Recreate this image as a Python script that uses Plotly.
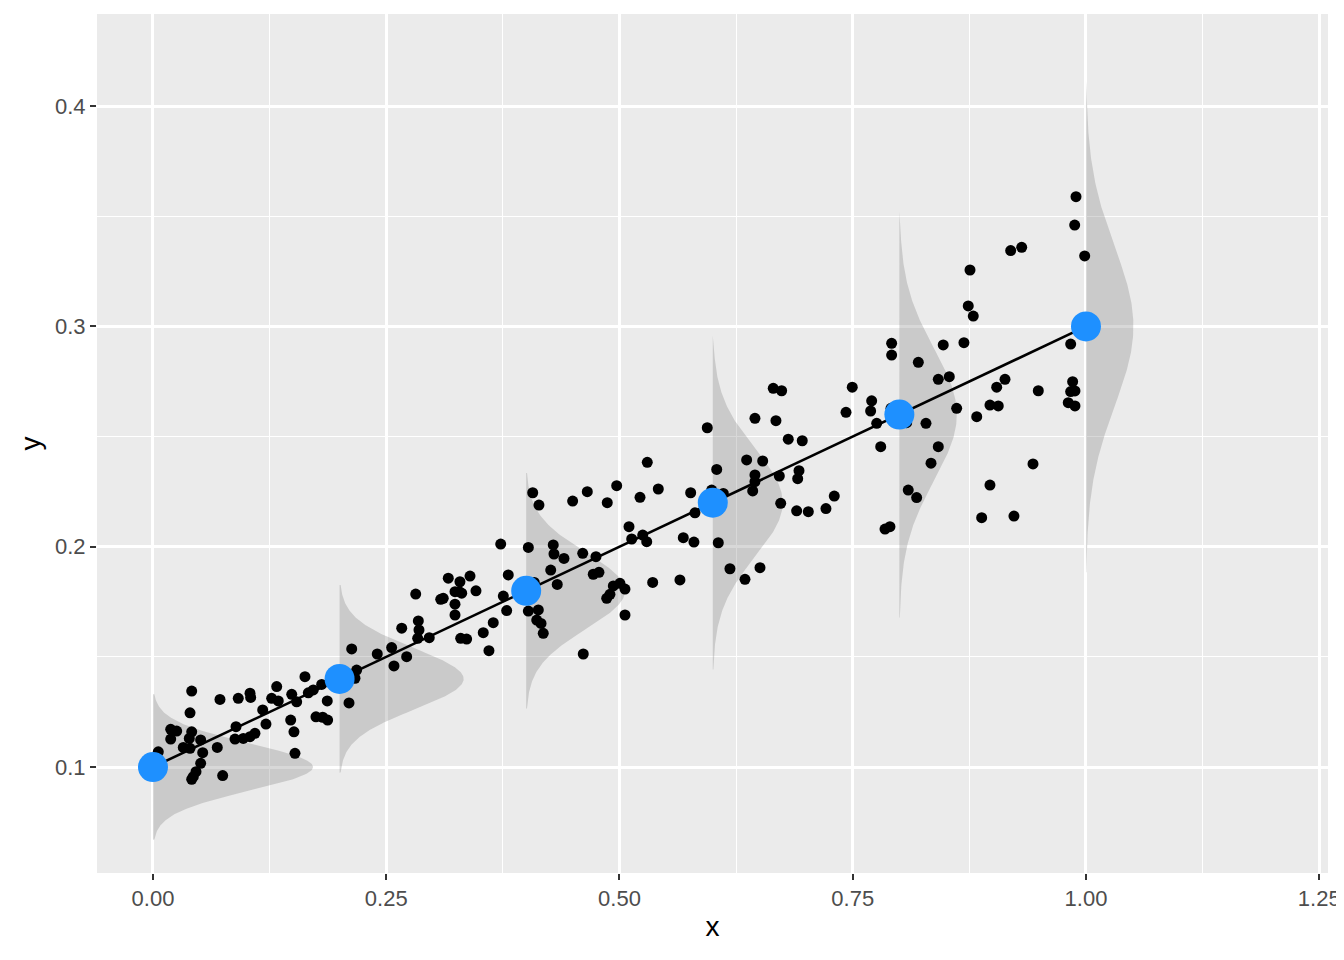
import numpy as np
import plotly.graph_objects as go

# ---- data ----
pts_x = [0.0415, 0.0397, 0.0718, 0.0914, 0.1040, 0.1047, 0.1326, 0.1629, 0.1808, 0.1718,
         0.1665, 0.1487, 0.1540, 0.1272, 0.1343, 0.1868, 0.1176, 0.1476, 0.1511, 0.1747,
         0.1819, 0.1872, 0.1211, 0.0890, 0.0190, 0.0254, 0.0190, 0.0415, 0.0389, 0.0511,
         0.0879, 0.0968, 0.1040, 0.1093, 0.0325, 0.0397, 0.0533, 0.0689, 0.1522, 0.0057,
         0.0046, 0.0021, 0.0511, 0.0461, 0.0432, 0.0415, 0.0747,
         0.3165, 0.3290, 0.3283, 0.3309, 0.3237, 0.3398, 0.2816, 0.3111, 0.3084, 0.3237,
         0.3237, 0.2844, 0.2851, 0.2837, 0.2961, 0.2666, 0.3298, 0.3362, 0.2558, 0.2404,
         0.2130, 0.2719, 0.2583, 0.2183, 0.2165, 0.2101,
         0.4070, 0.4137, 0.4498, 0.4655, 0.4869, 0.4970, 0.5220, 0.5416, 0.5102, 0.5131,
         0.5249, 0.5292, 0.3727, 0.4023, 0.4290, 0.4298, 0.4405, 0.4606, 0.4748, 0.4263,
         0.4333, 0.4087, 0.4719, 0.4780, 0.4934, 0.5005, 0.5059, 0.4863, 0.4898, 0.5356,
         0.5059, 0.4612, 0.3808, 0.3755, 0.3791, 0.4023, 0.4130, 0.4113, 0.4159, 0.4183,
         0.3647, 0.3540, 0.3601, 0.3462,
         0.6648, 0.6738, 0.6452, 0.6677, 0.5941, 0.6809, 0.6959, 0.5298, 0.6363, 0.6535,
         0.6042, 0.6452, 0.6452, 0.6428, 0.6713, 0.6924, 0.6910, 0.5763, 0.5988, 0.5970,
         0.6059, 0.6113, 0.5935, 0.5916, 0.5809, 0.6728, 0.6899, 0.7024, 0.7213, 0.7302,
         0.5684, 0.5798, 0.6059, 0.6184, 0.6506, 0.6345, 0.5648,
         0.7917, 0.7917, 0.8470, 0.8692, 0.8203, 0.8417, 0.8535, 0.7495, 0.9043, 0.7703,
         0.7692, 0.7428, 0.7910, 0.7757, 0.8078, 0.8285, 0.8614, 0.8829, 0.8971, 0.9060,
         0.7800, 0.8417, 0.8339, 0.8095, 0.8185, 0.8971, 0.8882, 0.7846, 0.7899,
         0.9893, 0.9879, 0.9193, 0.9311, 0.9986, 0.8757, 0.8738, 0.8792, 0.9836, 0.9132,
         0.9489, 0.9857, 0.9836, 0.9882, 0.9810, 0.9882, 0.9432, 0.9228]
pts_y = [0.1345, 0.1246, 0.1307, 0.1312, 0.1335, 0.1316, 0.1365, 0.1410, 0.1375, 0.1350,
         0.1337, 0.1330, 0.1296, 0.1312, 0.1300, 0.1300, 0.1259, 0.1213, 0.1160, 0.1228,
         0.1226, 0.1213, 0.1195, 0.1183, 0.1171, 0.1163, 0.1127, 0.1160, 0.1130, 0.1123,
         0.1127, 0.1130, 0.1138, 0.1153, 0.1089, 0.1085, 0.1065, 0.1089, 0.1062, 0.1069,
         0.1032, 0.0982, 0.1017, 0.0979, 0.0956, 0.0944, 0.0961,
         0.1857, 0.1841, 0.1796, 0.1789, 0.1796, 0.1867, 0.1785, 0.1766, 0.1761, 0.1739,
         0.1690, 0.1663, 0.1622, 0.1584, 0.1587, 0.1630, 0.1584, 0.1581, 0.1542, 0.1513,
         0.1536, 0.1501, 0.1459, 0.1440, 0.1403, 0.1291,
         0.2245, 0.2189, 0.2207, 0.2250, 0.2200, 0.2277, 0.2224, 0.2262, 0.2091, 0.2035,
         0.2053, 0.2023, 0.2012, 0.1997, 0.2008, 0.1967, 0.1947, 0.1970, 0.1955, 0.1894,
         0.1829, 0.1838, 0.1875, 0.1884, 0.1822, 0.1834, 0.1808, 0.1766, 0.1784, 0.1838,
         0.1690, 0.1513, 0.1872, 0.1776, 0.1710, 0.1708, 0.1713, 0.1667, 0.1652, 0.1607,
         0.1655, 0.1610, 0.1528, 0.1800,
         0.2719, 0.2708, 0.2583, 0.2572, 0.2540, 0.2488, 0.2481, 0.2383, 0.2394, 0.2389,
         0.2351, 0.2326, 0.2295, 0.2253, 0.2321, 0.2345, 0.2309, 0.2245, 0.2257, 0.2227,
         0.2230, 0.2242, 0.2189, 0.2182, 0.2154, 0.2197, 0.2163, 0.2159, 0.2173, 0.2230,
         0.2041, 0.2021, 0.2018, 0.1900, 0.1905, 0.1852, 0.1849,
         0.2923, 0.2870, 0.2916, 0.2926, 0.2837, 0.2760, 0.2772, 0.2724, 0.2724, 0.2662,
         0.2616, 0.2610, 0.2628, 0.2560, 0.2563, 0.2560, 0.2628, 0.2590, 0.2643, 0.2639,
         0.2454, 0.2454, 0.2379, 0.2257, 0.2223, 0.2280, 0.2132, 0.2080, 0.2091,
         0.3589, 0.3460, 0.3344, 0.3359, 0.3320, 0.3256, 0.3093, 0.3047, 0.2920, 0.2760,
         0.2708, 0.2749, 0.2704, 0.2707, 0.2654, 0.2639, 0.2376, 0.2139]

grp_x = [0.0, 0.2, 0.4, 0.6, 0.8, 1.0]
grp_mean = [0.10, 0.14, 0.18, 0.22, 0.26, 0.30]
grp_sd = [0.0107, 0.0138, 0.0173, 0.0245, 0.0298, 0.0361]

x_ticks = [0.0, 0.25, 0.50, 0.75, 1.00, 1.25]
x_ticklabels = ["0.00", "0.25", "0.50", "0.75", "1.00", "1.25"]
y_ticks = [0.1, 0.2, 0.3, 0.4]
y_ticklabels = ["0.1", "0.2", "0.3", "0.4"]

# ---- drawing ----
density_scale = 0.0046
cut = 3.09
FONT = "Liberation Sans, Arial, Helvetica, sans-serif"

fig = go.Figure()

for gx, m, sd in zip(grp_x, grp_mean, grp_sd):
    yy = np.linspace(m - cut * sd, m + cut * sd, 300)
    pdf = np.exp(-0.5 * ((yy - m) / sd) ** 2) / (sd * np.sqrt(2 * np.pi))
    xx = gx + density_scale * pdf
    px = np.concatenate([[gx], xx, [gx]])
    py = np.concatenate([[yy[0]], yy, [yy[-1]]])
    fig.add_trace(go.Scatter(x=px, y=py, mode="lines", fill="toself",
                             fillcolor="rgba(127,127,127,0.3)",
                             line=dict(width=0), hoverinfo="skip", showlegend=False))

fig.add_trace(go.Scatter(x=pts_x, y=pts_y, mode="markers",
                         marker=dict(size=11, color="black", line=dict(width=0)),
                         showlegend=False))

fig.add_trace(go.Scatter(x=grp_x, y=grp_mean, mode="lines",
                         line=dict(color="black", width=2.6), showlegend=False))

fig.add_trace(go.Scatter(x=grp_x, y=grp_mean, mode="markers",
                         marker=dict(size=30, color="#1E90FF", line=dict(width=0)),
                         showlegend=False))

axis_common = dict(
    showgrid=True, gridcolor="white", gridwidth=2.6,
    zeroline=False, showline=False, automargin=False,
    ticks="outside", ticklen=6, tickwidth=2, tickcolor="#333333",
    tickfont=dict(family=FONT, size=22, color="#4D4D4D"),
)

# the page body adds an 8 px offset, so the figure is sized to the remaining window
fig.update_layout(
    width=1336, height=952,
    margin=dict(l=89, r=16, t=6, b=87),
    paper_bgcolor="white", plot_bgcolor="#EBEBEB",
    font=dict(family=FONT),
    xaxis=dict(range=[-0.06, 1.2594], tickmode="array", tickvals=x_ticks,
               ticktext=x_ticklabels,
               minor=dict(tick0=0.125, dtick=0.25, showgrid=True, gridcolor="white",
                          gridwidth=1.3, ticks=""),
               title=dict(text="x", font=dict(family=FONT, size=28, color="black"),
                          standoff=5),
               **axis_common),
    yaxis=dict(range=[0.0519, 0.4418], tickmode="array", tickvals=y_ticks,
               ticktext=y_ticklabels,
               minor=dict(tick0=0.05, dtick=0.1, showgrid=True, gridcolor="white",
                          gridwidth=1.3, ticks=""),
               title=dict(text="y", font=dict(family=FONT, size=28, color="black"),
                          standoff=6),
               **axis_common),
    showlegend=False,
)

fig.write_html("out.html")
